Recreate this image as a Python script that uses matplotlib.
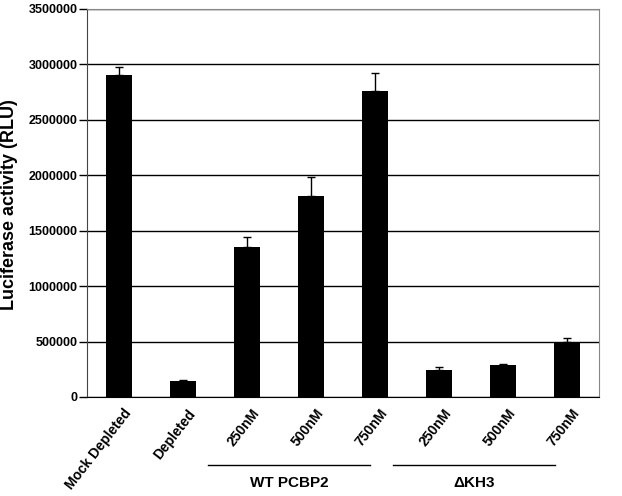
import numpy as np
import matplotlib as mpl
mpl.use('Agg')
import matplotlib.pyplot as plt
from matplotlib.transforms import blended_transform_factory, ScaledTranslation

plt.rcParams['font.family'] = ['Liberation Sans', 'DejaVu Sans']
plt.rcParams['font.weight'] = 'bold'

# data
labels = ['Mock Depleted', 'Depleted', '250nM', '500nM', '750nM', '250nM', '500nM', '750nM']
values = [2900000, 145000, 1350000, 1810000, 2760000, 240000, 290000, 500000]
errors = [80000, 10000, 90000, 170000, 160000, 30000, 10000, 30000]
yticks = [0, 500000, 1000000, 1500000, 2000000, 2500000, 3000000, 3500000]

groups = ['WT PCBP2', '\u0394KH3']
group_spans = [(1.39, 3.92), (4.28, 6.81)]

fig = plt.figure(figsize=(6.22, 4.96), dpi=100)
ax = fig.add_axes([0.1399, 0.1996, 0.8233, 0.7824])

x = np.arange(len(labels))
ax.bar(x, values, width=0.41, color='k', zorder=3)
ax.errorbar(x, values, yerr=[np.zeros(len(errors)), errors], fmt='none',
            ecolor='k', elinewidth=1, capsize=3, capthick=1, zorder=4)

ax.set_xlim(-0.5, len(labels) - 0.5)
ax.set_ylim(0, 3500000)
ax.set_yticks(yticks)
ax.set_yticklabels([str(v) for v in yticks], fontsize=9, fontweight='bold')
ax.yaxis.grid(True, color='k', linewidth=1, zorder=0)
ax.set_axisbelow(True)

ax.set_xticks(x)
ax.set_xticklabels(labels, rotation=52, ha='right', va='center', rotation_mode='anchor',
                   fontsize=10, fontweight='bold')
ax.tick_params(axis='x', length=0, pad=10)
shift = ScaledTranslation(10 / 100, 0, fig.dpi_scale_trans)
for lbl in ax.get_xticklabels():
    lbl.set_transform(lbl.get_transform() + shift)
ax.tick_params(axis='y', direction='out', length=6, width=1, pad=1)

for s in ['top', 'right']:
    ax.spines[s].set_color('#888888')
ax.spines['left'].set_color('#444444')
ax.spines['bottom'].set_color('k')

fig.text(1 / 622, 0.587, 'Luciferase activity (RLU)', rotation=90, ha='left', va='center',
         fontsize=13, fontweight='bold')

trans = blended_transform_factory(ax.transData, ax.transAxes)
for name, (x0, x1) in zip(groups, group_spans):
    ax.plot([x0, x1], [-0.175, -0.175], color='k', lw=1, transform=trans, clip_on=False)
    ax.text((x0 + x1) / 2, -0.222, name, transform=trans, ha='center', va='center',
            fontsize=11, fontweight='bold')

plt.savefig('out.png', dpi=100)
plt.close()
